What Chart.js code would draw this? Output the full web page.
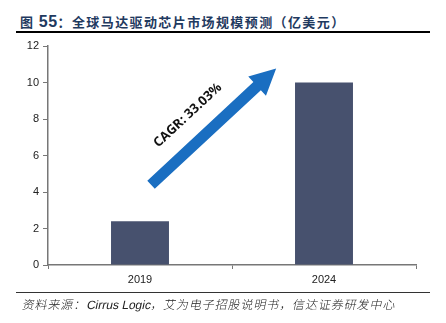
<!DOCTYPE html>
<html>
<head>
<meta charset="utf-8">
<script src="https://cdn.jsdelivr.net/npm/chart.js@4.4.1/dist/chart.umd.min.js"></script>
<style>
  html, body { margin: 0; padding: 0; background: #fff; }
  #wrap { position: relative; width: 446px; height: 323px; overflow: hidden; }
  #title {
    position: absolute; left: 20px; top: 12px;
    font: bold 13px "Noto Sans CJK SC", "Liberation Sans", sans-serif;
    color: #1f3a60; white-space: nowrap; letter-spacing: 1.4px;
  }
  #title .num { font-family: "Liberation Sans", Arial, sans-serif; font-size: 16px; letter-spacing: 0.5px; }
  .rule { position: absolute; left: 16px; width: 414px; background: #000; }
  #rule1 { top: 31px; height: 2px; }
  #rule2 { top: 292px; height: 1px; background: #333; }
  #source {
    position: absolute; left: 21px; top: 295px;
    font: 12px "Liberation Sans", "Noto Sans CJK SC", sans-serif;
    color: #222; white-space: nowrap;
    transform: skewX(-12deg); transform-origin: left bottom;
  }
  #source .cn { font-family: "Noto Sans CJK SC", sans-serif; font-weight: 300; letter-spacing: 0.9px; }
  canvas { position: absolute; left: 0; top: 0; }
</style>
</head>
<body>
<div id="wrap">
  <div id="title">图 <span class="num">55</span>：全球马达驱动芯片市场规模预测（亿美元）</div>
  <div class="rule" id="rule1"></div>
  <canvas id="motorChart" width="446" height="323"></canvas>
  <div class="rule" id="rule2"></div>
  <div id="source"><span class="cn">资料来源：</span>Cirrus Logic<span class="cn">，艾为电子招股说明书，信达证券研发中心</span></div>
</div>
<script>
// market size, 100 million USD
const years = ['2019', '2024'];
const marketSize = [2.4, 10];
const yTicks = [0, 2, 4, 6, 8, 10, 12];

// growth arrow, in axis units (category index, value)
const cagrLabel = 'CAGR: 33.03%';
const arrowTail = [0.06, 4.4];
const arrowTip = [0.74, 10.77];
const labelAt = [0.26, 8.2];

const growthArrow = {
  id: 'growthArrow',
  afterDatasetsDraw(chart) {
    const c = chart.ctx;
    const xs = chart.scales.x, ys = chart.scales.y;
    const x0 = xs.getPixelForValue(arrowTail[0]), y0 = ys.getPixelForValue(arrowTail[1]);
    const x1 = xs.getPixelForValue(arrowTip[0]), y1 = ys.getPixelForValue(arrowTip[1]);
    const ang = Math.atan2(y1 - y0, x1 - x0);
    const len = Math.hypot(x1 - x0, y1 - y0);
    const shaft = 5.5, head = 13, headLen = 26;

    c.save();
    c.translate(x0, y0);
    c.rotate(ang);
    c.fillStyle = '#1a6ec1';
    c.beginPath();
    c.moveTo(0, -shaft);
    c.lineTo(len - headLen, -shaft);
    c.lineTo(len - headLen, -head);
    c.lineTo(len, 0);
    c.lineTo(len - headLen, head);
    c.lineTo(len - headLen, shaft);
    c.lineTo(0, shaft);
    c.closePath();
    c.fill();
    c.restore();

    const tx = xs.getPixelForValue(labelAt[0]), ty = ys.getPixelForValue(labelAt[1]);
    c.save();
    c.translate(tx, ty);
    c.rotate(ang);
    c.fillStyle = '#111';
    c.font = 'bold 13px "Open Sans", "Noto Sans", sans-serif';
    c.textAlign = 'center';
    c.textBaseline = 'middle';
    c.fillText(cagrLabel, 0, 0);
    c.restore();
  }
};

const ctx = document.getElementById('motorChart').getContext('2d');

new Chart(ctx, {
  type: 'bar',
  data: {
    labels: years,
    datasets: [{
      data: marketSize,
      backgroundColor: '#47516e',
      categoryPercentage: 1,
      barPercentage: 0.315
    }]
  },
  plugins: [growthArrow],
  options: {
    responsive: false,
    animation: false,
    layout: { padding: { left: 10, right: 30, top: 46, bottom: 36 } },
    plugins: { legend: { display: false }, tooltip: { enabled: false } },
    scales: {
      x: {
        grid: { drawOnChartArea: false, tickLength: 4, color: '#777', offset: true },
        border: { color: '#777', width: 1.5 },
        ticks: { color: '#222', font: { family: '"Liberation Sans", Arial', size: 11 }, padding: 4 },
        afterFit(s) { s.height = 22; }
      },
      y: {
        min: 0,
        max: 12,
        afterBuildTicks(s) { s.ticks = yTicks.map(v => ({ value: v })); },
        grid: { drawOnChartArea: false, tickLength: 5, color: '#777' },
        border: { color: '#777', width: 1.5 },
        ticks: { color: '#222', font: { family: '"Liberation Sans", Arial', size: 11 }, padding: 4 },
        afterFit(s) { s.width = 38; }
      }
    }
  }
});
</script>
</body>
</html>
